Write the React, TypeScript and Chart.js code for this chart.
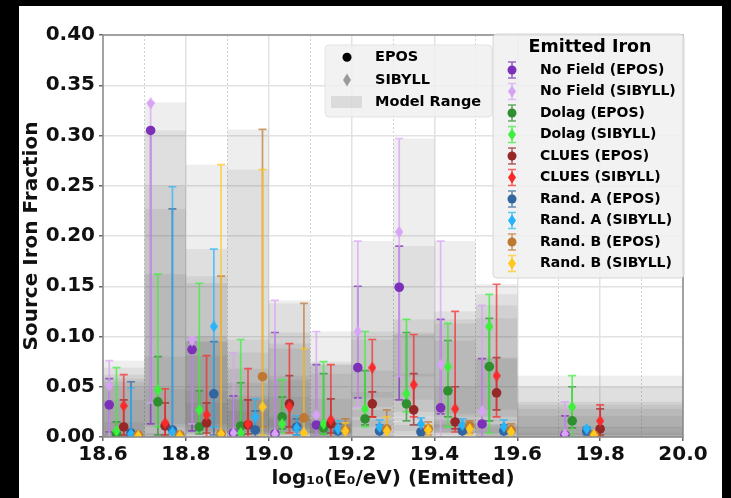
import React, { useEffect, useRef } from 'react';
import { Chart, registerables } from 'chart.js';

Chart.register(...registerables);

// ---------- axis ticks ----------
const xTickValues = [18.6, 18.7, 18.8, 18.9, 19.0, 19.1, 19.2, 19.3, 19.4, 19.5, 19.6, 19.7, 19.8, 19.9, 20.0];
const yTickValues = [0, 0.05, 0.1, 0.15, 0.2, 0.25, 0.3, 0.35, 0.4];

// ---------- energy bins (model range boxes) ----------
const binLow = [18.6, 18.7, 18.8, 18.9, 19.0, 19.1, 19.2, 19.3, 19.4, 19.5, 19.6];
const binHigh = [18.7, 18.8, 18.9, 19.0, 19.1, 19.2, 19.3, 19.4, 19.5, 19.6, 20.0];

// ---------- x positions (log10 E) of each model ----------
const xNoField = [18.615, 18.715, 18.815, 18.915, 19.015, 19.115, 19.215, 19.315, 19.415, 19.515, 19.715];
const xDolag = [18.6325, 18.7325, 18.8325, 18.9325, 19.0325, 19.1325, 19.2325, 19.3325, 19.4325, 19.5325, 19.7325];
const xClues = [18.65, 18.75, 18.85, 18.95, 19.05, 19.15, 19.25, 19.35, 19.45, 19.55, 19.8];
const xRandA = [18.6675, 18.7675, 18.8675, 18.9675, 19.0675, 19.1675, 19.2675, 19.3675, 19.4675, 19.5675, 19.7675];
const xRandB = [18.685, 18.785, 18.885, 18.985, 19.085, 19.185, 19.285, 19.385, 19.485, 19.585, 19.785];

// ---------- source iron fractions (value, lower, upper) ----------
const noFieldEpos = [0.032, 0.305, 0.087, 0.004, 0.003, 0.012, 0.069, 0.149, 0.029, 0.013, 0.002];
const noFieldEposLo = [0.005, 0.013, 0.006, 0.0, 0.0, 0.0, 0.039, 0.037, 0.023, 0.0, 0.0];
const noFieldEposHi = [0.058, 0.305, 0.095, 0.041, 0.104, 0.072, 0.150, 0.190, 0.117, 0.078, 0.021];

const noFieldSibyll = [0.051, 0.332, 0.096, 0.004, 0.003, 0.022, 0.105, 0.204, 0.072, 0.026, 0.003];
const noFieldSibyllLo = [0.0, 0.034, 0.013, 0.0, 0.0, 0.0, 0.030, 0.060, 0.0, 0.0, 0.0];
const noFieldSibyllHi = [0.076, 0.333, 0.100, 0.084, 0.136, 0.105, 0.195, 0.297, 0.195, 0.131, 0.035];

const dolagEpos = [0.003, 0.035, 0.010, 0.011, 0.020, 0.009, 0.018, 0.033, 0.046, 0.070, 0.016];
const dolagEposLo = [0.0, 0.002, 0.003, 0.002, 0.008, 0.003, 0.012, 0.016, 0.020, 0.016, 0.009];
const dolagEposHi = [0.015, 0.080, 0.046, 0.054, 0.040, 0.063, 0.066, 0.104, 0.096, 0.118, 0.050];

const dolagSibyll = [0.006, 0.047, 0.027, 0.004, 0.013, 0.013, 0.028, 0.043, 0.070, 0.110, 0.030];
const dolagSibyllLo = [0.0, 0.010, 0.005, 0.0, 0.004, 0.003, 0.010, 0.025, 0.010, 0.004, 0.0];
const dolagSibyllHi = [0.069, 0.162, 0.153, 0.097, 0.057, 0.075, 0.105, 0.117, 0.113, 0.142, 0.061];

const cluesEpos = [0.010, 0.011, 0.014, 0.012, 0.033, 0.013, 0.033, 0.027, 0.015, 0.044, 0.008];
const cluesEposLo = [0.002, 0.002, 0.004, 0.003, 0.010, 0.004, 0.020, 0.012, 0.008, 0.027, 0.002];
const cluesEposHi = [0.037, 0.034, 0.034, 0.037, 0.061, 0.038, 0.045, 0.063, 0.050, 0.079, 0.028];

const cluesSibyll = [0.031, 0.014, 0.022, 0.013, 0.030, 0.017, 0.069, 0.052, 0.028, 0.061, 0.016];
const cluesSibyllLo = [0.0, 0.0, 0.0, 0.0, 0.004, 0.0, 0.020, 0.020, 0.005, 0.020, 0.0];
const cluesSibyllHi = [0.062, 0.048, 0.081, 0.068, 0.093, 0.072, 0.097, 0.102, 0.125, 0.152, 0.032];

const randAEpos = [0.004, 0.007, 0.043, 0.007, 0.010, 0.006, 0.006, 0.005, 0.006, 0.006, 0.006];
const randAEposLo = [0.0, 0.0, 0.002, 0.0, 0.002, 0.0, 0.0, 0.0, 0.0, 0.0, 0.002];
const randAEposHi = [0.055, 0.227, 0.095, 0.026, 0.018, 0.013, 0.012, 0.012, 0.012, 0.012, 0.010];

const randASibyll = [0.003, 0.005, 0.110, 0.020, 0.009, 0.008, 0.010, 0.013, 0.012, 0.010, 0.008];
const randASibyllLo = [0.0, 0.0, 0.010, 0.005, 0.002, 0.0, 0.0, 0.006, 0.004, 0.003, 0.003];
const randASibyllHi = [0.049, 0.249, 0.187, 0.038, 0.021, 0.016, 0.017, 0.019, 0.018, 0.017, 0.010];

const randBEpos = [0.002, 0.002, 0.003, 0.060, 0.019, 0.007, 0.008, 0.008, 0.011, 0.007, 0.002];
const randBEposLo = [0.0, 0.0, 0.0, 0.010, 0.004, 0.0, 0.0, 0.002, 0.004, 0.0, 0.0];
const randBEposHi = [0.004, 0.004, 0.160, 0.306, 0.133, 0.018, 0.027, 0.015, 0.016, 0.013, 0.004];

const randBSibyll = [0.001, 0.001, 0.003, 0.030, 0.004, 0.006, 0.006, 0.007, 0.008, 0.005, 0.002];
const randBSibyllLo = [0.0, 0.0, 0.0, 0.002, 0.0, 0.0, 0.0, 0.0, 0.002, 0.0, 0.0];
const randBSibyllHi = [0.003, 0.003, 0.271, 0.266, 0.088, 0.014, 0.020, 0.012, 0.013, 0.010, 0.003];

type Series = {
  label: string;
  x: number[];
  y: number[];
  lo: number[];
  hi: number[];
  color: string;
  rgb: string;
  diamond: boolean;
};

const series: Series[] = [
  { label: 'No Field (EPOS)', x: xNoField, y: noFieldEpos, lo: noFieldEposLo, hi: noFieldEposHi, color: '#7c2fb8', rgb: '124,47,184', diamond: false },
  { label: 'No Field (SIBYLL)', x: xNoField, y: noFieldSibyll, lo: noFieldSibyllLo, hi: noFieldSibyllHi, color: '#d8a2f7', rgb: '216,162,247', diamond: true },
  { label: 'Dolag (EPOS)', x: xDolag, y: dolagEpos, lo: dolagEposLo, hi: dolagEposHi, color: '#2f8f2f', rgb: '47,143,47', diamond: false },
  { label: 'Dolag (SIBYLL)', x: xDolag, y: dolagSibyll, lo: dolagSibyllLo, hi: dolagSibyllHi, color: '#3cf03c', rgb: '60,240,60', diamond: true },
  { label: 'CLUES (EPOS)', x: xClues, y: cluesEpos, lo: cluesEposLo, hi: cluesEposHi, color: '#962828', rgb: '150,40,40', diamond: false },
  { label: 'CLUES (SIBYLL)', x: xClues, y: cluesSibyll, lo: cluesSibyllLo, hi: cluesSibyllHi, color: '#fa2a2a', rgb: '250,42,42', diamond: true },
  { label: 'Rand. A (EPOS)', x: xRandA, y: randAEpos, lo: randAEposLo, hi: randAEposHi, color: '#3264a0', rgb: '50,100,160', diamond: false },
  { label: 'Rand. A (SIBYLL)', x: xRandA, y: randASibyll, lo: randASibyllLo, hi: randASibyllHi, color: '#28b4fa', rgb: '40,180,250', diamond: true },
  { label: 'Rand. B (EPOS)', x: xRandB, y: randBEpos, lo: randBEposLo, hi: randBEposHi, color: '#be7832', rgb: '190,120,50', diamond: false },
  { label: 'Rand. B (SIBYLL)', x: xRandB, y: randBSibyll, lo: randBSibyllLo, hi: randBSibyllHi, color: '#ffc81e', rgb: '255,200,30', diamond: true },
];

const FONT = '"DejaVu Sans", sans-serif';

function makeDiamond(color: string, w: number, h: number): HTMLCanvasElement {
  const c = document.createElement('canvas');
  c.width = w;
  c.height = h;
  const g = c.getContext('2d')!;
  g.fillStyle = color;
  g.beginPath();
  g.moveTo(w / 2, 0);
  g.lineTo(w, h / 2);
  g.lineTo(w / 2, h);
  g.lineTo(0, h / 2);
  g.closePath();
  g.fill();
  return c;
}

function drawDiamond(ctx: CanvasRenderingContext2D, cx: number, cy: number, w: number, h: number, color: string) {
  ctx.fillStyle = color;
  ctx.beginPath();
  ctx.moveTo(cx, cy - h / 2);
  ctx.lineTo(cx + w / 2, cy);
  ctx.lineTo(cx, cy + h / 2);
  ctx.lineTo(cx - w / 2, cy);
  ctx.closePath();
  ctx.fill();
}

function roundRect(ctx: CanvasRenderingContext2D, x: number, y: number, w: number, h: number, r: number) {
  ctx.beginPath();
  ctx.moveTo(x + r, y);
  ctx.lineTo(x + w - r, y);
  ctx.quadraticCurveTo(x + w, y, x + w, y + r);
  ctx.lineTo(x + w, y + h - r);
  ctx.quadraticCurveTo(x + w, y + h, x + w - r, y + h);
  ctx.lineTo(x + r, y + h);
  ctx.quadraticCurveTo(x, y + h, x, y + h - r);
  ctx.lineTo(x, y + r);
  ctx.quadraticCurveTo(x, y, x + r, y);
  ctx.closePath();
}

const errorPlugin = {
  id: 'errorAndRange',
  beforeDatasetsDraw(chart: any) {
    const { ctx, chartArea: ca, scales } = chart;
    const xs = scales.x;
    const ys = scales.y;
    ctx.save();
    ctx.beginPath();
    ctx.rect(ca.left, ca.top, ca.right - ca.left, ca.bottom - ca.top);
    ctx.clip();
    // model range boxes
    ctx.fillStyle = 'rgba(90,90,90,0.1)';
    series.forEach((s) => {
      s.hi.forEach((hi, j) => {
        const x0 = xs.getPixelForValue(binLow[j]);
        const x1 = xs.getPixelForValue(binHigh[j]);
        const yTop = ys.getPixelForValue(hi);
        const yBot = ys.getPixelForValue(s.lo[j]);
        ctx.fillRect(x0, yTop, x1 - x0, yBot - yTop);
      });
    });
    // error bars
    ctx.lineWidth = 1.7;
    series.forEach((s) => {
      ctx.strokeStyle = `rgba(${s.rgb},0.72)`;
      s.y.forEach((_v, j) => {
        const px = xs.getPixelForValue(s.x[j]);
        const pLo = ys.getPixelForValue(s.lo[j]);
        const pHi = ys.getPixelForValue(s.hi[j]);
        ctx.beginPath();
        ctx.moveTo(px, pLo);
        ctx.lineTo(px, pHi);
        ctx.moveTo(px - 4, pLo);
        ctx.lineTo(px + 4, pLo);
        ctx.moveTo(px - 4, pHi);
        ctx.lineTo(px + 4, pHi);
        ctx.stroke();
      });
    });
    ctx.restore();
  },
  afterDatasetsDraw(chart: any) {
    const { ctx, chartArea: ca } = chart;
    ctx.save();
    ctx.strokeStyle = '#8a8a8a';
    ctx.lineWidth = 1.5;
    ctx.strokeRect(ca.left, ca.top, ca.right - ca.left, ca.bottom - ca.top);
    ctx.restore();
  },
  afterDraw(chart: any) {
    const { ctx, chartArea: ca } = chart;
    ctx.save();
    // ----- model legend -----
    const lx = ca.right - 358;
    const ly = ca.top + 10;
    roundRect(ctx, lx, ly, 167, 72, 4);
    ctx.fillStyle = 'rgba(240,240,240,0.85)';
    ctx.fill();
    ctx.strokeStyle = 'rgba(225,225,225,0.9)';
    ctx.lineWidth = 1;
    ctx.stroke();
    ctx.font = `bold 14.5px ${FONT}`;
    ctx.textBaseline = 'middle';
    ctx.textAlign = 'left';
    const mx = ca.right - 336;
    const tx = ca.right - 308;
    ctx.fillStyle = '#000';
    ctx.beginPath();
    ctx.arc(mx, ca.top + 22.3, 4.5, 0, Math.PI * 2);
    ctx.fill();
    ctx.fillText('EPOS', tx, ca.top + 22.3);
    drawDiamond(ctx, mx, ca.top + 45, 8, 13, 'rgba(140,140,140,0.85)');
    ctx.fillStyle = '#000';
    ctx.fillText('SIBYLL', tx, ca.top + 45);
    ctx.fillStyle = 'rgba(90,90,90,0.15)';
    ctx.fillRect(ca.right - 352, ca.top + 61, 31, 12);
    ctx.fillStyle = '#000';
    ctx.fillText('Model Range', tx, ca.top + 67);

    // ----- series legend -----
    const rx = ca.right - 190;
    const ry = ca.top - 1;
    roundRect(ctx, rx, ry, 191, 244, 4);
    ctx.fillStyle = 'rgba(240,240,240,0.85)';
    ctx.fill();
    ctx.strokeStyle = 'rgba(210,210,210,0.9)';
    ctx.lineWidth = 1;
    ctx.stroke();
    ctx.fillStyle = '#000';
    ctx.font = `bold 17.5px ${FONT}`;
    ctx.textAlign = 'center';
    ctx.fillText('Emitted Iron', ca.right - 93, ca.top + 12);
    ctx.textAlign = 'left';
    ctx.font = `bold 14px ${FONT}`;
    const ix = ca.right - 171;
    series.forEach((s, k) => {
      const cy = ca.top + 35 + 21.5 * k;
      ctx.strokeStyle = `rgba(${s.rgb},0.72)`;
      ctx.lineWidth = 1.6;
      ctx.beginPath();
      ctx.moveTo(ix, cy - 8);
      ctx.lineTo(ix, cy + 8);
      ctx.moveTo(ix - 4, cy - 8);
      ctx.lineTo(ix + 4, cy - 8);
      ctx.moveTo(ix - 4, cy + 8);
      ctx.lineTo(ix + 4, cy + 8);
      ctx.stroke();
      if (s.diamond) {
        drawDiamond(ctx, ix, cy, 8, 12, s.color);
      } else {
        ctx.fillStyle = s.color;
        ctx.beginPath();
        ctx.arc(ix, cy, 4.5, 0, Math.PI * 2);
        ctx.fill();
      }
      ctx.fillStyle = '#000';
      ctx.fillText(s.label, ca.right - 143, cy);
    });
    ctx.restore();
  },
};

export default function App() {
  const ref = useRef<HTMLCanvasElement | null>(null);

  useEffect(() => {
    if (!ref.current) return;
    const datasets = series.map((s, i) => ({
      label: s.label,
      data: s.y.map((v, j) => ({ x: s.x[j], y: v })),
      pointStyle: s.diamond ? makeDiamond(s.color, 8, 12) : 'circle',
      pointRadius: 4.8,
      backgroundColor: s.color,
      borderColor: s.color,
      borderWidth: 0,
      showLine: false,
      order: series.length - i,
    }));

    const chart = new Chart(ref.current, {
      type: 'scatter',
      data: { datasets } as any,
      options: {
        responsive: false,
        animation: false,
        devicePixelRatio: 1,
        layout: { padding: { top: 29, right: 39, left: 0, bottom: 0 } },
        plugins: { legend: { display: false }, tooltip: { enabled: false } },
        scales: {
          x: {
            type: 'linear',
            min: 18.6,
            max: 20.0,
            afterBuildTicks: (scale: any) => {
              scale.ticks = xTickValues.map((v) => ({ value: v }));
            },
            afterFit: (scale: any) => {
              scale.height = 61;
            },
            ticks: {
              autoSkip: false,
              maxRotation: 0,
              padding: 2,
              color: '#111',
              font: { family: FONT, size: 20, weight: 'bold' },
              callback: (v: any) => (Math.round(Number(v) * 10) % 2 === 0 ? Number(v).toFixed(1) : ''),
            },
            grid: {
              color: (c: any) => {
                const v = c.tick ? c.tick.value : 0;
                return Math.round(v * 10) % 2 === 0 ? '#e2e2e2' : '#d2d2d2';
              },
              lineWidth: (c: any) => {
                const v = c.tick ? c.tick.value : 0;
                return Math.round(v * 10) % 2 === 0 ? 1.5 : 1;
              },
              tickColor: (c: any) => {
                const v = c.tick ? c.tick.value : 0;
                return Math.round(v * 10) % 2 === 0 ? '#666' : 'rgba(0,0,0,0)';
              },
              tickLength: 4,
            },
            border: {
              display: false,
              dash: (c: any) => {
                const v = c.tick ? c.tick.value : 0;
                return Math.round(v * 10) % 2 === 0 ? [] : [2, 2];
              },
            } as any,
            title: {
              display: true,
              text: 'log₁₀(E₀/eV) (Emitted)',
              color: '#111',
              font: { family: FONT, size: 20, weight: 'bold' },
              padding: { top: 0, bottom: 7 },
            },
          },
          y: {
            type: 'linear',
            min: 0,
            max: 0.4,
            afterBuildTicks: (scale: any) => {
              scale.ticks = yTickValues.map((v) => ({ value: v }));
            },
            afterFit: (scale: any) => {
              scale.width = 84;
            },
            ticks: {
              padding: 4,
              color: '#111',
              font: { family: FONT, size: 20, weight: 'bold' },
              callback: (v: any) => Number(v).toFixed(2),
            },
            grid: {
              color: '#e2e2e2',
              lineWidth: 1.5,
              tickColor: '#666',
              tickLength: 4,
            },
            border: { display: false },
            title: {
              display: true,
              text: 'Source Iron Fraction',
              color: '#111',
              font: { family: FONT, size: 20, weight: 'bold' },
              padding: { top: 1, bottom: 0 },
            },
          },
        },
      } as any,
      plugins: [errorPlugin],
    });
    return () => chart.destroy();
  }, []);

  return (
    <div style={{ position: 'absolute', left: 0, top: 0, width: 731, height: 498, background: '#000', overflow: 'hidden' }}>
      <div style={{ position: 'absolute', left: 19, top: 6, width: 703, height: 492, background: '#fff' }}>
        <canvas ref={ref} width={703} height={492} style={{ display: 'block', width: 703, height: 492 }} />
      </div>
    </div>
  );
}
